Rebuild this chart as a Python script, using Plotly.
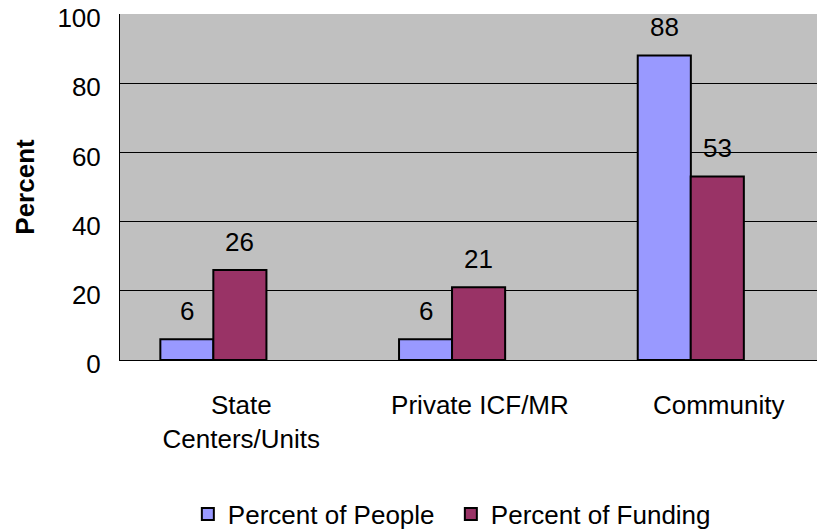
import plotly.graph_objects as go

categories = ["State<br>Centers/Units", "Private ICF/MR", "Community"]
people = [6, 6, 88]
funding = [26, 21, 53]
series_names = ["Percent of People", "Percent of Funding"]
yticks = [0, 20, 40, 60, 80, 100]

FONT = "Liberation Sans, Arial, sans-serif"
idx = list(range(len(categories)))
W = 0.2225
offsets = [-0.339, -0.117]
colors = ["#9999FF", "#993366"]

fig = go.Figure()
for vals, name, off, col in zip([people, funding], series_names, offsets, colors):
    fig.add_trace(go.Bar(
        x=idx, y=vals, name=name, width=W, offset=off,
        marker=dict(color=col, line=dict(color="black", width=2)),
    ))
    for i, v in zip(idx, vals):
        fig.add_annotation(x=i + off + W / 2, y=v, text=str(v), showarrow=False,
                           yanchor="middle", yshift=28.5,
                           font=dict(family=FONT, size=26, color="black"))

fig.update_layout(
    width=825, height=531,
    margin=dict(l=112, r=0, t=6, b=179, autoexpand=False),
    paper_bgcolor="white", plot_bgcolor="#C0C0C0",
    font=dict(family=FONT, size=26, color="black"),
    barmode="overlay",
    showlegend=True,
    legend=dict(orientation="h", xref="container", yref="container",
                x=0.218, y=0.047, xanchor="left", yanchor="middle",
                itemwidth=30, entrywidth=218, entrywidthmode="pixels",
                font=dict(family=FONT, size=26), bgcolor="rgba(0,0,0,0)"),
)
fig.update_xaxes(range=[-0.508, 2.479], tickvals=idx, ticktext=categories,
                 showgrid=False, zeroline=False, showline=True, linecolor="black",
                 linewidth=1, ticks="outside", ticklen=22, tickcolor="rgba(0,0,0,0)",
                 tickfont=dict(family=FONT, size=26), automargin=False)
fig.update_yaxes(range=[0, 100], tickvals=yticks, showgrid=True, gridcolor="black",
                 gridwidth=1, zeroline=False, showline=True, linecolor="black",
                 linewidth=1, ticks="outside", ticklen=13, tickcolor="rgba(0,0,0,0)",
                 tickfont=dict(family=FONT, size=26), automargin=False,
                 ticklabeloverflow="allow", ticklabelshift=4,
                 title=dict(text="<b>Percent</b>", font=dict(family=FONT, size=26),
                            standoff=15))

fig.write_html("out.html")
